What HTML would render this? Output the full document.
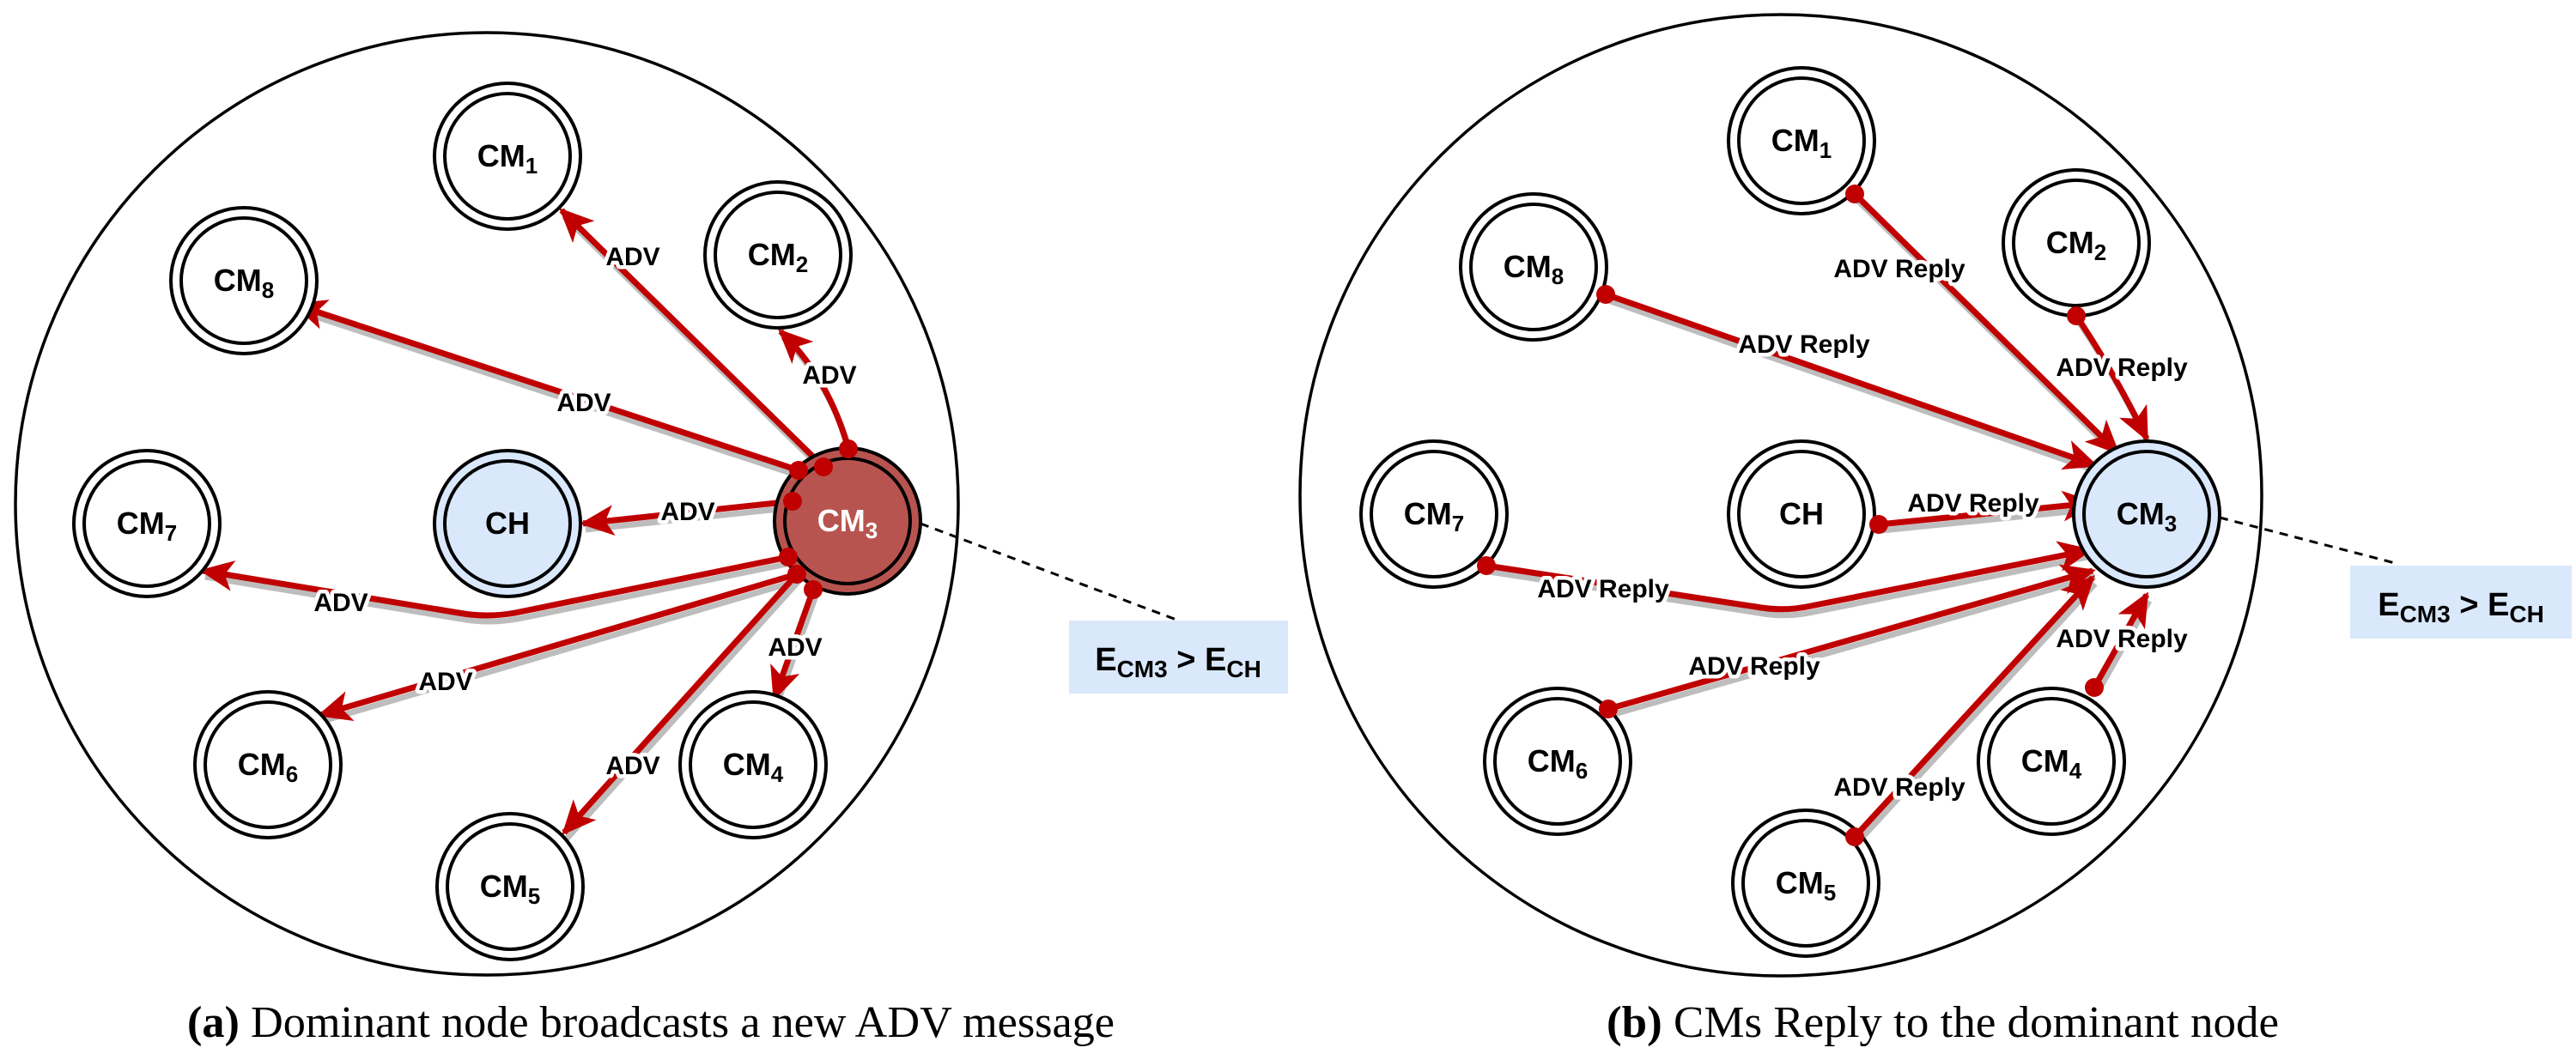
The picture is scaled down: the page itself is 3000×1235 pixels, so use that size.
<!DOCTYPE html>
<html><head><meta charset="utf-8"><style>html,body{margin:0;padding:0;background:#fff}svg{display:block}</style></head><body>
<svg width="3000" height="1235" viewBox="0 0 3000 1235" xmlns="http://www.w3.org/2000/svg" font-family="Liberation Sans, Arial, sans-serif">
<defs>
<marker id="ah" markerUnits="userSpaceOnUse" markerWidth="40" markerHeight="36" refX="36" refY="18" orient="auto"><path d="M0,0 L40,18 L0,36 L10,18 z" fill="#c00000"/></marker>
<g id="dn"><circle r="85" fill="#fff" stroke="#000" stroke-width="4"/><circle r="73" fill="none" stroke="#000" stroke-width="4"/></g>
<g id="bn"><circle r="85" fill="#dae8fc" stroke="#000" stroke-width="4"/><circle r="73" fill="none" stroke="#000" stroke-width="4"/></g>
</defs>
<circle cx="567" cy="587" r="549" fill="none" stroke="#000" stroke-width="3.5"/>
<circle cx="2074" cy="577" r="560" fill="none" stroke="#000" stroke-width="3.5"/>
<line x1="1072" y1="610" x2="1370" y2="722" stroke="#000" stroke-width="3" stroke-dasharray="10,8"/>
<line x1="2585" y1="603" x2="2793" y2="657" stroke="#000" stroke-width="3" stroke-dasharray="10,8"/>
<g fill="none" stroke-width="7">
<g stroke="#bdbdbd" transform="translate(3,7)">
<path d="M959,544 L654,245"/><path d="M988,523 Q965,440 909,386"/><path d="M930,548 L344,355"/><path d="M923,584 L679,610"/><path d="M918,649 L600,714 Q567,720 534,714 L236,665"/><path d="M928,669 L373,833"/><path d="M928,669 L657,970"/><path d="M947,687 L902,813"/>
<path d="M2160,226 L2466,527"/><path d="M2418,368 Q2460,430 2500,511"/><path d="M1870,343 L2440,542"/><path d="M2188,611 L2438,586"/><path d="M1731,659 L2045,707 Q2077,713 2109,706 L2433,641"/><path d="M1873,826 L2437,665"/><path d="M2160,975 L2437,673"/><path d="M2439,801 L2500,693"/>
</g>
<g stroke="#c00000">
<path d="M959,544 L654,245" marker-end="url(#ah)"/><path d="M988,523 Q965,440 909,386" marker-end="url(#ah)"/><path d="M930,548 L344,355" marker-end="url(#ah)"/><path d="M923,584 L679,610" marker-end="url(#ah)"/><path d="M918,649 L600,714 Q567,720 534,714 L236,665" marker-end="url(#ah)"/><path d="M928,669 L373,833" marker-end="url(#ah)"/><path d="M928,669 L657,970" marker-end="url(#ah)"/><path d="M947,687 L902,813" marker-end="url(#ah)"/>
<path d="M2160,226 L2466,527" marker-end="url(#ah)"/><path d="M2418,368 Q2460,430 2500,511" marker-end="url(#ah)"/><path d="M1870,343 L2440,542" marker-end="url(#ah)"/><path d="M2188,611 L2438,586" marker-end="url(#ah)"/><path d="M1731,659 L2045,707 Q2077,713 2109,706 L2433,641" marker-end="url(#ah)"/><path d="M1873,826 L2437,665" marker-end="url(#ah)"/><path d="M2160,975 L2437,673" marker-end="url(#ah)"/><path d="M2439,801 L2500,693" marker-end="url(#ah)"/>
</g>
</g>
<use href="#dn" x="591" y="182"/><use href="#dn" x="906" y="297"/><use href="#dn" x="284" y="327"/><use href="#dn" x="171" y="610"/>
<use href="#bn" x="591" y="610"/><use href="#dn" x="312" y="891"/><use href="#dn" x="877" y="891"/><use href="#dn" x="594" y="1033"/>
<circle cx="987" cy="607" r="85" fill="#b85450" stroke="#000" stroke-width="4"/><circle cx="987" cy="607" r="73" fill="none" stroke="#000" stroke-width="4"/>
<use href="#dn" x="2098" y="164"/><use href="#dn" x="2418" y="283"/><use href="#dn" x="1786" y="311"/><use href="#dn" x="1670" y="599"/>
<use href="#dn" x="2098" y="599"/><use href="#bn" x="2500" y="599"/><use href="#dn" x="1814" y="887"/><use href="#dn" x="2389" y="887"/><use href="#dn" x="2103" y="1029"/>
<g fill="#c00000">
<circle cx="959" cy="544" r="11"/><circle cx="988" cy="523" r="11"/><circle cx="930" cy="548" r="11"/><circle cx="923" cy="584" r="11"/><circle cx="918" cy="649" r="11"/><circle cx="928" cy="669" r="11"/><circle cx="947" cy="687" r="11"/>
<circle cx="2160" cy="226" r="11"/><circle cx="2418" cy="368" r="11"/><circle cx="1870" cy="343" r="11"/><circle cx="2188" cy="611" r="11"/><circle cx="1731" cy="659" r="11"/><circle cx="1873" cy="826" r="11"/><circle cx="2160" cy="975" r="11"/><circle cx="2439" cy="801" r="11"/>
</g>
<g font-weight="bold" font-size="36" text-anchor="middle" fill="#000">
<text x="591" y="194">CM<tspan font-size="26" dy="8">1</tspan></text>
<text x="906" y="309">CM<tspan font-size="26" dy="8">2</tspan></text>
<text x="284" y="339">CM<tspan font-size="26" dy="8">8</tspan></text>
<text x="171" y="622">CM<tspan font-size="26" dy="8">7</tspan></text>
<text x="591" y="622">CH</text>
<text x="312" y="903">CM<tspan font-size="26" dy="8">6</tspan></text>
<text x="877" y="903">CM<tspan font-size="26" dy="8">4</tspan></text>
<text x="594" y="1045">CM<tspan font-size="26" dy="8">5</tspan></text>
<text x="987" y="619" fill="#fff">CM<tspan font-size="26" dy="8">3</tspan></text>
<text x="2098" y="176">CM<tspan font-size="26" dy="8">1</tspan></text>
<text x="2418" y="295">CM<tspan font-size="26" dy="8">2</tspan></text>
<text x="1786" y="323">CM<tspan font-size="26" dy="8">8</tspan></text>
<text x="1670" y="611">CM<tspan font-size="26" dy="8">7</tspan></text>
<text x="2098" y="611">CH</text>
<text x="2500" y="611">CM<tspan font-size="26" dy="8">3</tspan></text>
<text x="1814" y="899">CM<tspan font-size="26" dy="8">6</tspan></text>
<text x="2389" y="899">CM<tspan font-size="26" dy="8">4</tspan></text>
<text x="2103" y="1041">CM<tspan font-size="26" dy="8">5</tspan></text>
</g>
<g font-weight="bold" font-size="30" text-anchor="middle" fill="#000" stroke="#fff" stroke-width="9" paint-order="stroke" stroke-linejoin="round">
<text x="737" y="309">ADV</text><text x="966" y="447">ADV</text><text x="680" y="479">ADV</text><text x="801" y="606">ADV</text>
<text x="397" y="712">ADV</text><text x="519" y="804">ADV</text><text x="737" y="902">ADV</text><text x="926" y="764">ADV</text>
<text x="2212" y="323">ADV Reply</text><text x="2471" y="438">ADV Reply</text><text x="2101" y="411">ADV Reply</text><text x="2298" y="596">ADV Reply</text>
<text x="1867" y="696">ADV Reply</text><text x="2043" y="786">ADV Reply</text><text x="2212" y="927">ADV Reply</text><text x="2471" y="754">ADV Reply</text>
</g>
<rect x="1245" y="723" width="255" height="85" fill="#dae8fc"/>
<text x="1372" y="781" text-anchor="middle" font-weight="bold" font-size="38">E<tspan font-size="28" dy="8">CM3</tspan><tspan dy="-8"> &gt; E</tspan><tspan font-size="28" dy="8">CH</tspan></text>
<rect x="2737" y="659" width="258" height="85" fill="#dae8fc"/>
<text x="2866" y="717" text-anchor="middle" font-weight="bold" font-size="38">E<tspan font-size="28" dy="8">CM3</tspan><tspan dy="-8"> &gt; E</tspan><tspan font-size="28" dy="8">CH</tspan></text>
<text x="218" y="1208" font-family="Liberation Serif, serif" font-size="52" textLength="1080" lengthAdjust="spacingAndGlyphs"><tspan font-weight="bold">(a)</tspan>  Dominant node broadcasts a new ADV message</text>
<text x="1871" y="1208" font-family="Liberation Serif, serif" font-size="52" textLength="783" lengthAdjust="spacingAndGlyphs"><tspan font-weight="bold">(b)</tspan>  CMs Reply to the dominant node</text>
</svg>
</body></html>
